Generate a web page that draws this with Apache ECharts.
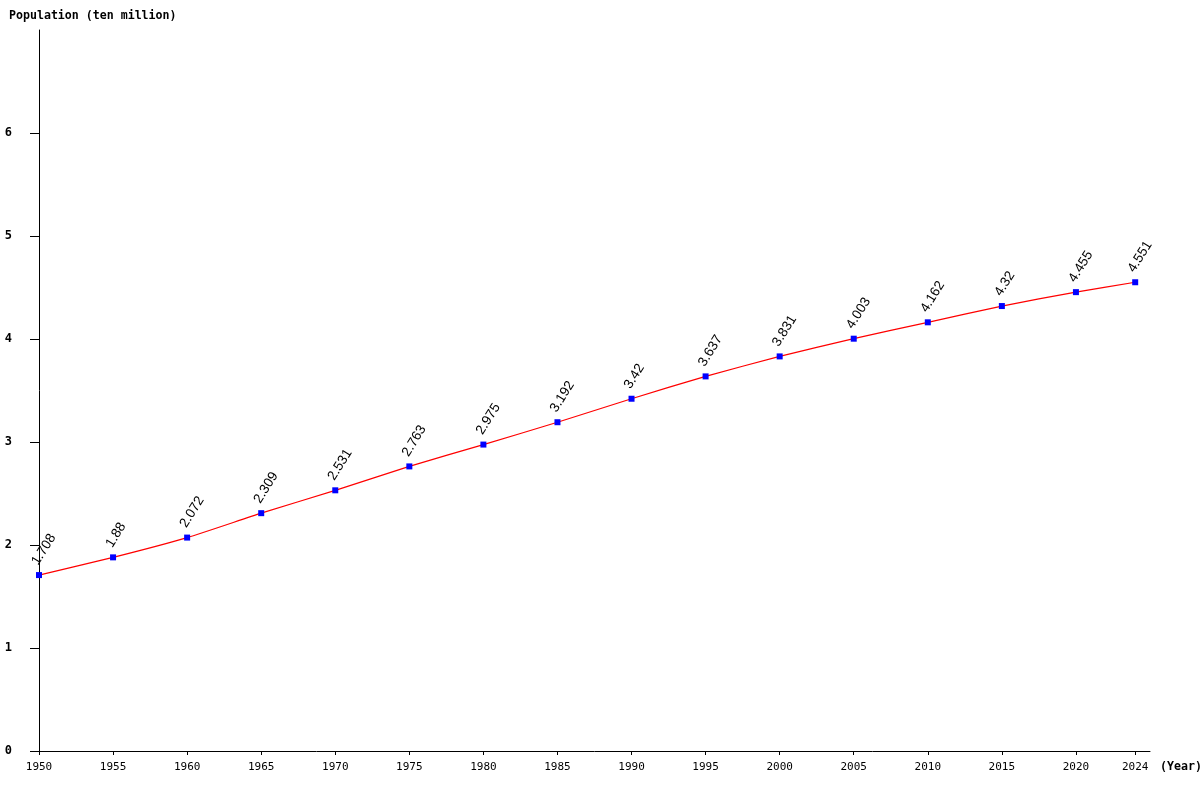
<!DOCTYPE html>
<html>
<head>
<meta charset="utf-8">
<script src="https://cdn.jsdelivr.net/npm/echarts@6/dist/echarts.min.js"></script>
<style>
  html, body { margin: 0; padding: 0; background: #fff; }
  #chart { width: 1200px; height: 800px; }
</style>
</head>
<body>
<div id="chart"></div>
<script>
const years = [1950, 1955, 1960, 1965, 1970, 1975, 1980, 1985, 1990, 1995, 2000, 2005, 2010, 2015, 2020, 2024]
const population = [1.708, 1.88, 2.072, 2.309, 2.531, 2.763, 2.975, 3.192, 3.42, 3.637, 3.831, 4.003, 4.162, 4.32, 4.455, 4.551]
const yTicks = [0, 1, 2, 3, 4, 5, 6]

const mono = '"DejaVu Sans Mono", monospace'

let myChart = echarts.init(document.getElementById('chart'))
myChart.setOption({
  animation: false,
  title: {
    text: 'Population (ten million)',
    left: 9,
    top: 10,
    padding: 0,
    textStyle: {fontFamily: mono, fontSize: 11.6, fontWeight: 'bold', color: '#000'}
  },
  grid: {left: 39, right: 50, top: 30, bottom: 49, outerBoundsMode: 'none', containLabel: false},
  xAxis: {
    type: 'value',
    min: 1950,
    max: 2025,
    name: '(Year)',
    nameLocation: 'end',
    nameGap: 10,
    nameTextStyle: {fontFamily: mono, fontSize: 11.6, fontWeight: 'bold', color: '#000', verticalAlign: 'top', padding: [10, 0, 0, 0]},
    splitLine: {show: false},
    axisLine: {lineStyle: {color: '#000', width: 1}},
    axisTick: {customValues: years, length: 4, lineStyle: {color: '#000'}},
    axisLabel: {
      customValues: years,
      margin: 11,
      fontFamily: mono,
      fontSize: 11,
      color: '#000',
      formatter: v => String(v)
    }
  },
  yAxis: {
    type: 'value',
    min: 0,
    max: 7,
    splitLine: {show: false},
    axisLine: {show: true, lineStyle: {color: '#000', width: 1}},
    axisTick: {show: true, customValues: yTicks, length: 9, lineStyle: {color: '#000'}},
    axisLabel: {
      customValues: yTicks,
      margin: 27,
      fontFamily: mono,
      fontSize: 12,
      fontWeight: 'bold',
      color: '#000'
    }
  },
  series: [
    {
      type: 'line',
      data: years.map((y, i) => [y, population[i]]),
      smooth: 0.2,
      lineStyle: {color: '#ff0000', width: 1.2},
      symbol: 'rect',
      symbolSize: 6,
      itemStyle: {color: '#0000ff'},
      label: {
        show: true,
        position: 'top',
        distance: 0,
        rotate: 58,
        align: 'left',
        verticalAlign: 'middle',
        offset: [4.8, -7.8],
        fontFamily: '"Liberation Sans", Arial, sans-serif',
        fontSize: 13.5,
        color: '#000',
        formatter: p => String(p.value[1])
      }
    }
  ]
})
</script>
</body>
</html>
